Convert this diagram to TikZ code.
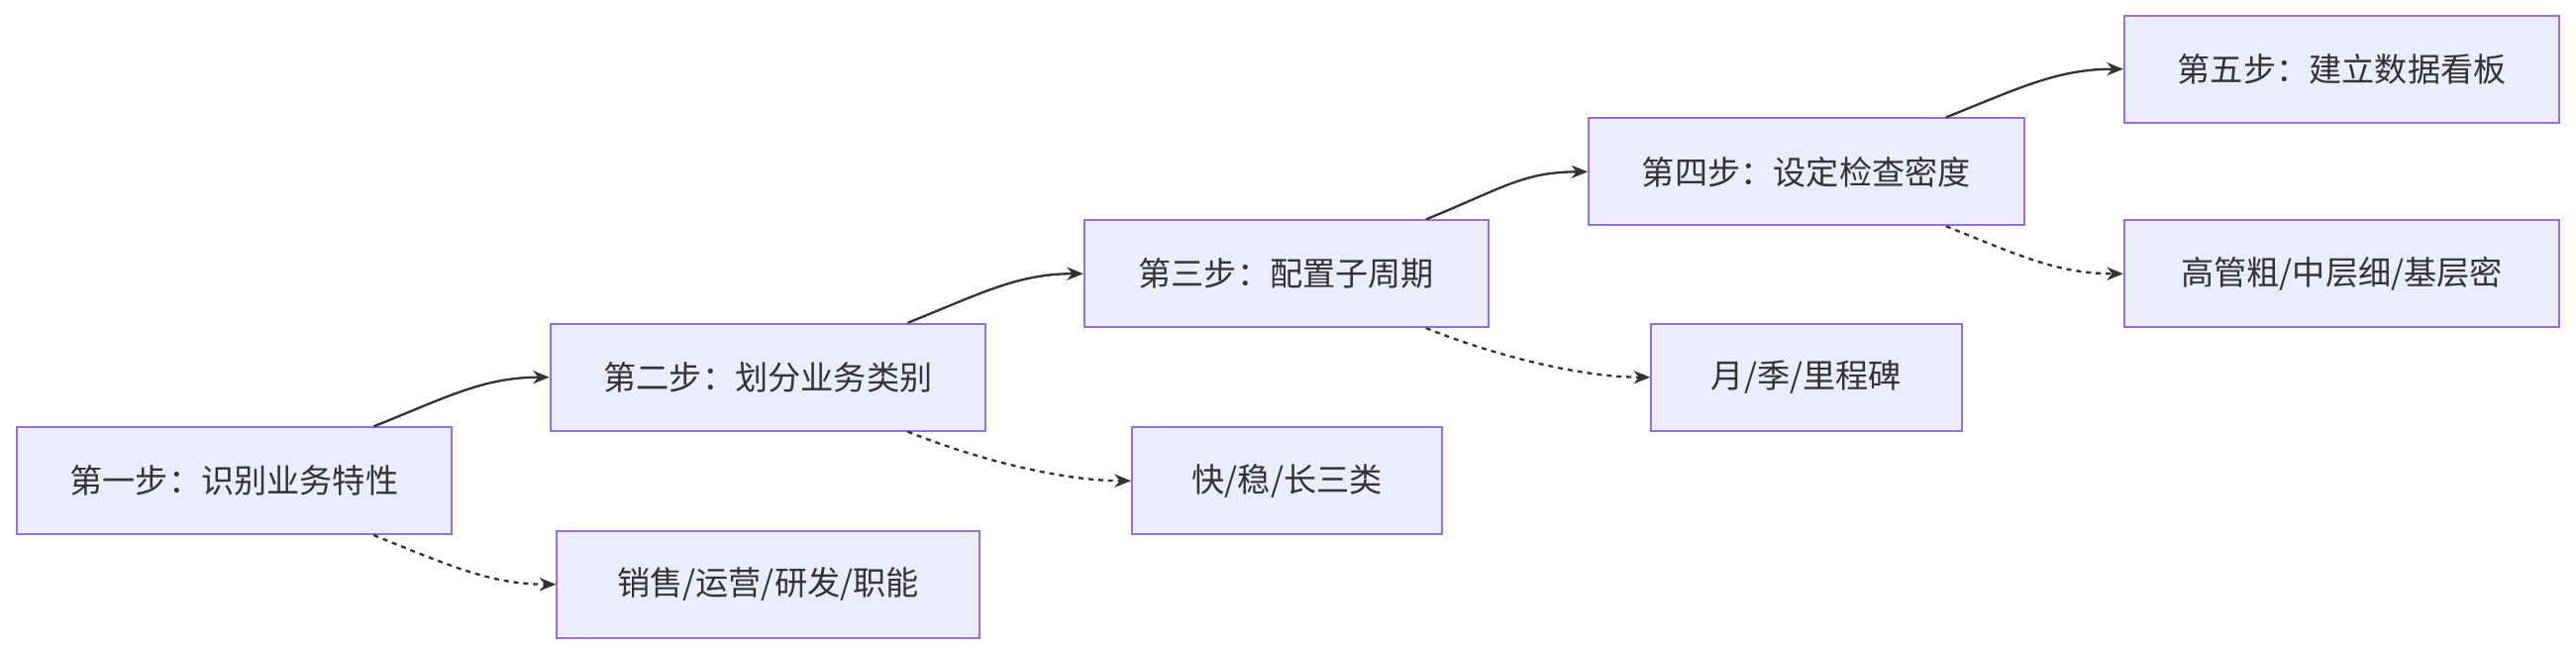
\documentclass[tikz,border=0pt]{standalone}
\usepackage{fontspec}
\setmainfont{Liberation Sans}
\newfontfamily\cjk{Noto Sans CJK SC}
\usetikzlibrary{arrows.meta,calc}
\definecolor{boxfill}{HTML}{ECECFF}
\definecolor{boxline}{HTML}{9370DB}
\definecolor{linkcol}{HTML}{333333}
\tikzset{every picture/.style={line width=0.75pt}}
\tikzset{
  stage/.style={draw=boxline,fill=boxfill,line width=0.6pt,minimum height=32.5pt,inner sep=0pt,font=\cjk\fontsize{10}{12}\selectfont,text=linkcol},
  main/.style={draw=linkcol,line width=0.7pt,-{Stealth[length=5pt,width=4pt]}},
  side/.style={main,dash pattern=on 1.5pt off 1.5pt}
}
\begin{document}
\begin{tikzpicture}[x=0.5pt,y=-0.5pt]
\useasboundingbox (0,0) rectangle (1568,398);

%Steps
\node[stage,minimum width=132.5pt] (b1) at (142.5,292.5) {第一步：识别业务特性};
\node[stage,minimum width=132.5pt] (b2) at (467.5,229.5) {第二步：划分业务类别};
\node[stage,minimum width=123pt] (b3) at (783,166.5) {第三步：配置子周期};
\node[stage,minimum width=132.5pt] (b4) at (1099.5,104.5) {第四步：设定检查密度};
\node[stage,minimum width=132.5pt] (b5) at (1425.5,42) {第五步：建立数据看板};

%Details
\node[stage,minimum width=128.5pt] (s1) at (467.5,355.5) {销售/运营/研发/职能};
\node[stage,minimum width=94.5pt] (s2) at (783.5,292.5) {快/稳/长三类};
\node[stage,minimum width=94.5pt] (s3) at (1099.5,229.5) {月/季/里程碑};
\node[stage,minimum width=132.5pt] (s4) at (1425.5,166.5) {高管粗/中层细/基层密};

%Links
\foreach \a/\b/\c in {b1/b2/s1,b2/b3/s2,b3/b4/s3,b4/b5/s4}{
  \draw[main] ($(\a.north)+(85,0)$) .. controls +(45,-18) and +(-40,0) .. (\b.west);
  \draw[side] ($(\a.south)+(85,0)$) .. controls +(45,18) and +(-40,0) .. (\c.west);
}
\end{tikzpicture}
\end{document}
